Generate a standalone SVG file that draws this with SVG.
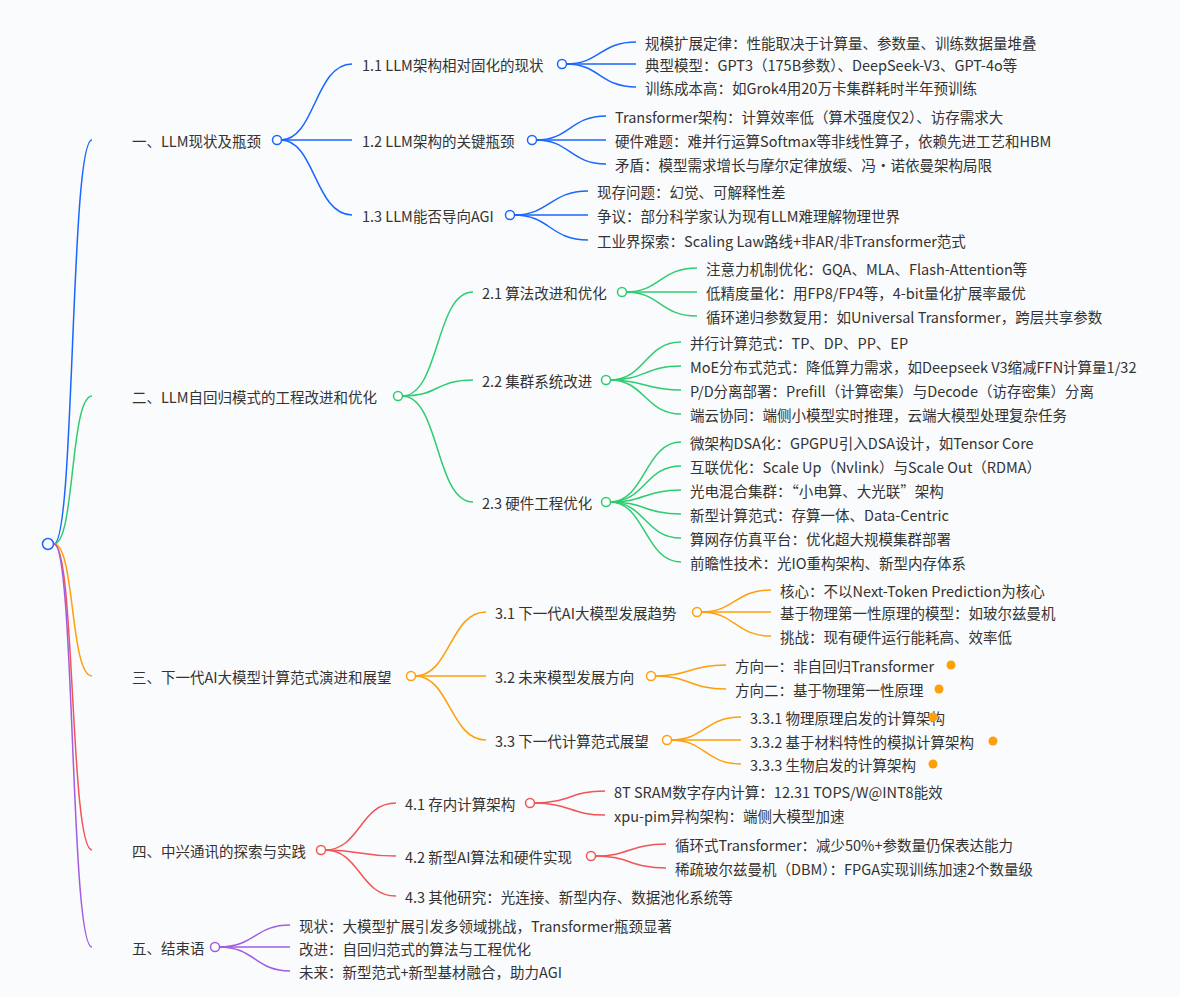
<svg xmlns="http://www.w3.org/2000/svg" width="1180" height="997" viewBox="0 0 1180 997">
<style>
text{font-family:"Noto Sans CJK SC","Noto Sans",sans-serif;font-size:14.5px;fill:#333;dominant-baseline:central}
path{fill:none;stroke-width:1.5}
.b{stroke:#1a66ff}.g{stroke:#2ecc71}.o{stroke:#ff9f0a}.r{stroke:#f25555}.p{stroke:#a35ce0}
circle{fill:#fff;stroke-width:1.5}
.dot{fill:#ff9f0a;stroke:none}
</style>
<rect width="1180" height="997" fill="#fafbfc"/>
<g id="connectors">
<path class="b" d="M54,544 C75,544 70,140 92,140"/>
<path class="g" d="M54,544 C75,544 70,396 92,396"/>
<path class="o" d="M54,544 C75,544 70,676 92,676"/>
<path class="r" d="M54,544 C75,544 70,850 92,850"/>
<path class="p" d="M54,544 C75,544 70,947 92,947"/>
<path class="b" d="M281,140 C315,140 315,64 352,64"/>
<path class="b" d="M281,140 L352,140"/>
<path class="b" d="M281,140 C315,140 315,215 352,215"/>
<path class="b" d="M566,64 C600,64 600,42 636,42"/><path class="b" d="M566,64 L636,64"/><path class="b" d="M566,64 C600,64 600,87 636,87"/>
<path class="b" d="M536,140 C570,140 570,116 606,116"/><path class="b" d="M536,140 L606,140"/><path class="b" d="M536,140 C570,140 570,164 606,164"/>
<path class="b" d="M514,215 C550,215 550,191 588,191"/><path class="b" d="M514,215 L588,215"/><path class="b" d="M514,215 C550,215 550,240 588,240"/>
<path class="g" d="M402,396 C440,396 435,292 473,292"/><path class="g" d="M402,396 C440,396 435,380 473,380"/><path class="g" d="M402,396 C440,396 435,502 473,502"/>
<path class="g" d="M626,292 C660,292 660,268 697,268"/><path class="g" d="M626,292 L697,292"/><path class="g" d="M626,292 C660,292 660,316 697,316"/>
<path class="g" d="M610,380 C645,380 645,342 681,342"/><path class="g" d="M610,380 C645,380 645,366 681,366"/><path class="g" d="M610,380 C645,380 645,390 681,390"/><path class="g" d="M610,380 C645,380 645,414 681,414"/>
<path class="g" d="M610,502 C645,502 645,442 681,442"/><path class="g" d="M610,502 C645,502 645,466 681,466"/><path class="g" d="M610,502 C645,502 645,490 681,490"/><path class="g" d="M610,502 C645,502 645,514 681,514"/><path class="g" d="M610,502 C645,502 645,538 681,538"/><path class="g" d="M610,502 C645,502 645,562 681,562"/>
<path class="o" d="M415,676 C450,676 450,612 486,612"/><path class="o" d="M415,676 L486,676"/><path class="o" d="M415,676 C450,676 450,740 486,740"/>
<path class="o" d="M701,612 C735,612 735,590 771,590"/><path class="o" d="M701,612 L771,612"/><path class="o" d="M701,612 C735,612 735,636 771,636"/>
<path class="o" d="M655,676 C690,676 690,665 726,665"/><path class="o" d="M655,676 C690,676 690,689 726,689"/>
<path class="o" d="M671,740 C705,740 705,717 741,717"/><path class="o" d="M671,740 L741,740"/><path class="o" d="M671,740 C705,740 705,764 741,764"/>
<path class="r" d="M325,850 C360,850 360,803 396,803"/><path class="r" d="M325,850 C360,850 360,856 396,856"/><path class="r" d="M325,850 C360,850 360,896 396,896"/>
<path class="r" d="M534,803 C570,803 570,791 605,791"/><path class="r" d="M534,803 C570,803 570,815 605,815"/>
<path class="r" d="M595,856 C630,856 630,844 666,844"/><path class="r" d="M595,856 C630,856 630,868 666,868"/>
<path class="p" d="M219,947 C255,947 255,925 290,925"/><path class="p" d="M219,947 L290,947"/><path class="p" d="M219,947 C255,947 255,971 290,971"/>
</g>
<g id="root"><circle cx="48" cy="544" r="5.5" stroke="#1a66ff"/></g>
<g id="n1"><text x="132" y="140">一、LLM现状及瓶颈</text><circle cx="277" cy="140" r="4.5" stroke="#1a66ff"/></g>
<g id="n11"><text x="362" y="64">1.1 LLM架构相对固化的现状</text><circle cx="562" cy="64" r="4.5" stroke="#1a66ff"/></g>
<g id="n11a"><text x="645" y="42">规模扩展定律：性能取决于计算量、参数量、训练数据量堆叠</text></g>
<g id="n11b"><text x="645" y="64">典型模型：GPT3（175B参数）、DeepSeek-V3、GPT-4o等</text></g>
<g id="n11c"><text x="645" y="87">训练成本高：如Grok4用20万卡集群耗时半年预训练</text></g>
<g id="n12"><text x="362" y="140">1.2 LLM架构的关键瓶颈</text><circle cx="532" cy="140" r="4.5" stroke="#1a66ff"/></g>
<g id="n12a"><text x="615" y="116">Transformer架构：计算效率低（算术强度仅2）、访存需求大</text></g>
<g id="n12b"><text x="615" y="140">硬件难题：难并行运算Softmax等非线性算子，依赖先进工艺和HBM</text></g>
<g id="n12c"><text x="615" y="164">矛盾：模型需求增长与摩尔定律放缓、冯·诺依曼架构局限</text></g>
<g id="n13"><text x="362" y="215">1.3 LLM能否导向AGI</text><circle cx="510" cy="215" r="4.5" stroke="#1a66ff"/></g>
<g id="n13a"><text x="597" y="191">现存问题：幻觉、可解释性差</text></g>
<g id="n13b"><text x="597" y="215">争议：部分科学家认为现有LLM难理解物理世界</text></g>
<g id="n13c"><text x="597" y="240">工业界探索：Scaling Law路线+非AR/非Transformer范式</text></g>
<g id="n2"><text x="132" y="396">二、LLM自回归模式的工程改进和优化</text><circle cx="398" cy="396" r="4.5" stroke="#2ecc71"/></g>
<g id="n21"><text x="482" y="292">2.1 算法改进和优化</text><circle cx="622" cy="292" r="4.5" stroke="#2ecc71"/></g>
<g id="n21a"><text x="706" y="268">注意力机制优化：GQA、MLA、Flash-Attention等</text></g>
<g id="n21b"><text x="706" y="292">低精度量化：用FP8/FP4等，4-bit量化扩展率最优</text></g>
<g id="n21c"><text x="706" y="316">循环递归参数复用：如Universal Transformer，跨层共享参数</text></g>
<g id="n22"><text x="482" y="380">2.2 集群系统改进</text><circle cx="606" cy="380" r="4.5" stroke="#2ecc71"/></g>
<g id="n22a"><text x="690" y="342">并行计算范式：TP、DP、PP、EP</text></g>
<g id="n22b"><text x="690" y="366">MoE分布式范式：降低算力需求，如Deepseek V3缩减FFN计算量1/32</text></g>
<g id="n22c"><text x="690" y="390">P/D分离部署：Prefill（计算密集）与Decode（访存密集）分离</text></g>
<g id="n22d"><text x="690" y="414">端云协同：端侧小模型实时推理，云端大模型处理复杂任务</text></g>
<g id="n23"><text x="482" y="502">2.3 硬件工程优化</text><circle cx="606" cy="502" r="4.5" stroke="#2ecc71"/></g>
<g id="n23a"><text x="690" y="442">微架构DSA化：GPGPU引入DSA设计，如Tensor Core</text></g>
<g id="n23b"><text x="690" y="466">互联优化：Scale Up（Nvlink）与Scale Out（RDMA）</text></g>
<g id="n23c"><text x="690" y="490">光电混合集群：“小电算、大光联”架构</text></g>
<g id="n23d"><text x="690" y="514">新型计算范式：存算一体、Data-Centric</text></g>
<g id="n23e"><text x="690" y="538">算网存仿真平台：优化超大规模集群部署</text></g>
<g id="n23f"><text x="690" y="562">前瞻性技术：光IO重构架构、新型内存体系</text></g>
<g id="n3"><text x="132" y="676">三、下一代AI大模型计算范式演进和展望</text><circle cx="411" cy="676" r="4.5" stroke="#ff9f0a"/></g>
<g id="n31"><text x="495" y="612">3.1 下一代AI大模型发展趋势</text><circle cx="697" cy="612" r="4.5" stroke="#ff9f0a"/></g>
<g id="n31a"><text x="780" y="590">核心：不以Next-Token Prediction为核心</text></g>
<g id="n31b"><text x="780" y="612">基于物理第一性原理的模型：如玻尔兹曼机</text></g>
<g id="n31c"><text x="780" y="636">挑战：现有硬件运行能耗高、效率低</text></g>
<g id="n32"><text x="495" y="676">3.2 未来模型发展方向</text><circle cx="651" cy="676" r="4.5" stroke="#ff9f0a"/></g>
<g id="n32a"><text x="735" y="665">方向一：非自回归Transformer</text><circle class="dot" cx="951" cy="665" r="4.5"/></g>
<g id="n32b"><text x="735" y="689">方向二：基于物理第一性原理</text><circle class="dot" cx="939" cy="689" r="4.5"/></g>
<g id="n33"><text x="495" y="740">3.3 下一代计算范式展望</text><circle cx="667" cy="740" r="4.5" stroke="#ff9f0a"/></g>
<g id="n33a"><text x="750" y="717">3.3.1 物理原理启发的计算架构</text><circle class="dot" cx="933" cy="717" r="4.5"/></g>
<g id="n33b"><text x="750" y="741">3.3.2 基于材料特性的模拟计算架构</text><circle class="dot" cx="993" cy="741" r="4.5"/></g>
<g id="n33c"><text x="750" y="764">3.3.3 生物启发的计算架构</text><circle class="dot" cx="933" cy="764" r="4.5"/></g>
<g id="n4"><text x="132" y="850">四、中兴通讯的探索与实践</text><circle cx="321" cy="850" r="4.5" stroke="#f25555"/></g>
<g id="n41"><text x="405" y="803">4.1 存内计算架构</text><circle cx="530" cy="803" r="4.5" stroke="#f25555"/></g>
<g id="n41a"><text x="614" y="791">8T SRAM数字存内计算：12.31 TOPS/W@INT8能效</text></g>
<g id="n41b"><text x="614" y="815">xpu-pim异构架构：端侧大模型加速</text></g>
<g id="n42"><text x="405" y="856">4.2 新型AI算法和硬件实现</text><circle cx="591" cy="856" r="4.5" stroke="#f25555"/></g>
<g id="n42a"><text x="675" y="844">循环式Transformer：减少50%+参数量仍保表达能力</text></g>
<g id="n42b"><text x="675" y="868">稀疏玻尔兹曼机（DBM）：FPGA实现训练加速2个数量级</text></g>
<g id="n43"><text x="405" y="896">4.3 其他研究：光连接、新型内存、数据池化系统等</text></g>
<g id="n5"><text x="132" y="947">五、结束语</text><circle cx="215" cy="947" r="4.5" stroke="#a35ce0"/></g>
<g id="n5a"><text x="299" y="925">现状：大模型扩展引发多领域挑战，Transformer瓶颈显著</text></g>
<g id="n5b"><text x="299" y="948">改进：自回归范式的算法与工程优化</text></g>
<g id="n5c"><text x="299" y="971">未来：新型范式+新型基材融合，助力AGI</text></g>
</svg>
